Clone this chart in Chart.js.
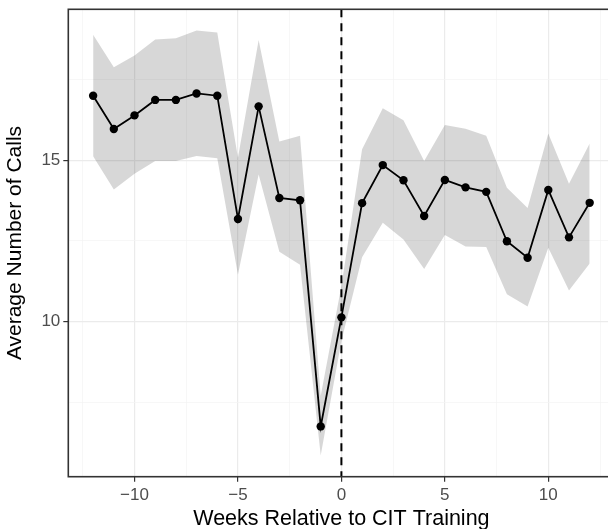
<!DOCTYPE html>
<html>
<head>
<meta charset="utf-8">
<script src="https://cdn.jsdelivr.net/npm/chart.js@4.4.1/dist/chart.umd.min.js"></script>
<style>
  body { margin: 0; overflow: hidden; background: #fff; }
  #wrap { position: absolute; left: 0; top: 0; }
</style>
</head>
<body>
<div id="wrap"><canvas id="myChart" width="620" height="540"></canvas></div>
<script>
// weeks relative to training, mean calls and the ribbon bounds
var weeks = [-12, -11, -10, -9, -8, -7, -6, -5, -4, -3, -2, -1, 0, 1, 2, 3, 4, 5, 6, 7, 8, 9, 10, 11, 12];
var meanCalls = [17.0, 15.97, 16.39, 16.87, 16.87, 17.07, 17.0, 13.18, 16.67, 13.83, 13.76, 6.75, 10.13,
                 13.67, 14.85, 14.38, 13.27, 14.39, 14.16, 14.02, 12.49, 11.98, 14.08, 12.61, 13.68];
var upperCI = [18.89, 17.88, 18.25, 18.74, 18.78, 19.02, 18.96, 15.08, 18.73, 15.58, 15.76, 7.7, 11.1,
               15.34, 16.61, 16.24, 14.98, 16.09, 15.98, 15.76, 14.15, 13.52, 15.83, 14.27, 15.52];
var lowerCI = [15.12, 14.09, 14.58, 14.98, 14.98, 15.13, 15.06, 11.45, 14.56, 12.16, 11.76, 5.85, 9.4,
               11.99, 13.06, 12.54, 11.63, 12.68, 12.33, 12.31, 10.85, 10.47, 12.29, 10.96, 11.80];
var xTicks = [-12.5, -10, -7.5, -5, -2.5, 0, 2.5, 5, 7.5, 10, 12.5];
var yTicks = [7.5, 10, 12.5, 15, 17.5];
var trainingWeek = 0;

function pts(ys) {
  return weeks.map(function (w, i) { return {x: w, y: ys[i]}; });
}

// ggplot style 5% expansion
var xLo = Math.min.apply(null, weeks), xHi = Math.max.apply(null, weeks);
var yLo = Math.min.apply(null, lowerCI), yHi = Math.max.apply(null, upperCI);
var xPad = (xHi - xLo) * 0.05, yPad = (yHi - yLo) * 0.05;

function isMajor(v) { return Math.abs(v % 5) < 1e-9; }

var panelPlugin = {
  id: 'panel',
  afterDatasetsDraw: function (chart) {
    var ctx = chart.ctx, a = chart.chartArea;
    var x0 = chart.scales.x.getPixelForValue(trainingWeek);
    ctx.save();
    // dashed line at training week
    ctx.strokeStyle = '#000';
    ctx.lineWidth = 2;
    ctx.setLineDash([8, 6]);
    ctx.beginPath();
    ctx.moveTo(x0, a.top);
    ctx.lineTo(x0, a.bottom);
    ctx.stroke();
    ctx.restore();
  },
  afterDraw: function (chart) {
    var ctx = chart.ctx, a = chart.chartArea;
    ctx.save();
    ctx.strokeStyle = '#333333';
    ctx.lineWidth = 1.6;
    ctx.strokeRect(a.left, a.top, a.right - a.left, a.bottom - a.top);
    ctx.restore();
  }
};

var tickFont = {family: 'Liberation Sans', size: 17};
var titleFont = {family: 'Liberation Sans', size: 21};

new Chart("myChart", {
  type: "line",
  data: {
    datasets: [{
      data: pts(meanCalls),
      borderColor: '#000',
      borderWidth: 1.8,
      pointRadius: 4.2,
      pointBackgroundColor: '#000',
      pointBorderWidth: 0,
      fill: false,
      order: 0
    }, {
      data: pts(upperCI),
      borderWidth: 0,
      pointRadius: 0,
      backgroundColor: 'rgba(0,0,0,0.155)',
      fill: '+1',
      order: 1
    }, {
      data: pts(lowerCI),
      borderWidth: 0,
      pointRadius: 0,
      fill: false,
      order: 2
    }]
  },
  options: {
    responsive: false,
    animation: false,
    devicePixelRatio: 1,
    layout: {padding: {top: 9.3, right: 5.5, left: 0, bottom: 0}},
    plugins: {legend: {display: false}, tooltip: {enabled: false}},
    scales: {
      x: {
        type: 'linear',
        min: xLo - xPad,
        max: xHi + xPad,
        afterBuildTicks: function (s) { s.ticks = xTicks.map(function (v) { return {value: v}; }); },
        afterFit: function (s) { s.height = 540 - 476.7; s.paddingLeft = 0; s.paddingRight = 0; },
        border: {display: false},
        grid: {
          color: function (c) { return isMajor(c.tick.value) ? '#EBEBEB' : '#F3F3F3'; },
          lineWidth: function (c) { return isMajor(c.tick.value) ? 1.2 : 0.7; },
          tickColor: function (c) { return isMajor(c.tick.value) ? '#333333' : 'rgba(0,0,0,0)'; },
          tickWidth: 1.2,
          tickLength: 5
        },
        ticks: {
          autoSkip: false,
          maxRotation: 0,
          padding: 3,
          color: '#4D4D4D',
          font: tickFont,
          callback: function (v) { return isMajor(v) ? (v < 0 ? '\u2212' + Math.abs(v) : String(v)) : ''; }
        },
        title: {display: true, text: 'Weeks Relative to CIT Training', color: '#000', font: {family: 'Liberation Sans', size: 21.5},
                padding: {top: 0, bottom: 7.9}}
      },
      y: {
        type: 'linear',
        min: yLo - yPad,
        max: yHi + yPad,
        afterBuildTicks: function (s) { s.ticks = yTicks.map(function (v) { return {value: v}; }); },
        afterFit: function (s) { s.width = 68.3; s.paddingTop = 0; s.paddingBottom = 0; },
        border: {display: false},
        grid: {
          color: function (c) { return isMajor(c.tick.value) ? '#EBEBEB' : '#F3F3F3'; },
          lineWidth: function (c) { return isMajor(c.tick.value) ? 1.2 : 0.7; },
          tickColor: function (c) { return isMajor(c.tick.value) ? '#333333' : 'rgba(0,0,0,0)'; },
          tickWidth: 1.2,
          tickLength: 5
        },
        ticks: {
          autoSkip: false,
          padding: 3,
          color: '#4D4D4D',
          font: tickFont,
          callback: function (v) { return isMajor(v) ? String(v) : ''; }
        },
        title: {display: true, text: 'Average Number of Calls', color: '#000', font: titleFont,
                padding: {top: 3, bottom: 0}}
      }
    }
  },
  plugins: [panelPlugin]
});
</script>
</body>
</html>
